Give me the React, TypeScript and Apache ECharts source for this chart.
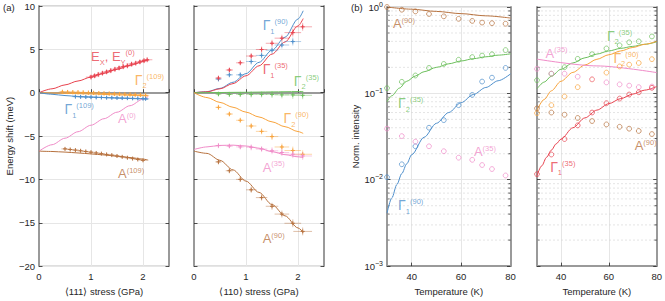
import React, { useEffect, useRef } from 'react';
import * as echarts from 'echarts';

const FONT = '"Liberation Sans", Arial, Helvetica, sans-serif';
const RED = '#E8434F';
const ORANGE = '#F8A33C';
const BLUE = '#4F8FCB';
const GREEN = '#6CBF5C';
const PINK = '#F08CC8';
const BROWN = '#B7723F';
const TXT = '#262626';

// ---------- (a) left: <111> stress ----------
const fitX = [0, 0.25, 0.5, 0.75, 1, 1.25, 1.5, 1.75, 2, 2.1];
const fitE0 = [0, 0.45, 0.9, 1.35, 1.8, 2.25, 2.7, 3.15, 3.6, 3.8];
const fitG2_109 = [0, -0.03, -0.07, -0.11, -0.15, -0.2, -0.25, -0.3, -0.35, -0.37];
const fitG1_109 = [0, -0.18, -0.33, -0.43, -0.5, -0.56, -0.62, -0.67, -0.72, -0.75];
const fitA0 = [-6.75, -6.0, -5.25, -4.5, -3.75, -3.0, -2.25, -1.5, -0.75, -0.45];
const fitA109 = [-6.74, -6.78, -6.85, -6.95, -7.06, -7.18, -7.32, -7.48, -7.66, -7.78];

const eX = [1.0, 1.07, 1.14, 1.22, 1.3, 1.38, 1.46, 1.54, 1.62, 1.7, 1.78, 1.86, 1.94, 2.02, 2.08];
const eY = [1.8, 1.95, 2.1, 2.25, 2.4, 2.55, 2.7, 2.85, 3.0, 3.1, 3.3, 3.4, 3.55, 3.7, 3.8];
const eXe = [0.1, 0.1, 0.1, 0.1, 0.1, 0.1, 0.1, 0.1, 0.1, 0.1, 0.1, 0.1, 0.1, 0.1, 0.1];
const eYe = [0.3, 0.3, 0.3, 0.3, 0.3, 0.3, 0.3, 0.3, 0.3, 0.3, 0.3, 0.3, 0.3, 0.3, 0.3];

const g2aX = [0.45, 0.55, 0.65, 0.75, 0.85, 0.95, 1.05, 1.15, 1.25, 1.35, 1.45, 1.55, 1.65, 1.75, 1.85, 1.95, 2.05];
const g2aY = [0.1, 0.08, 0.06, 0.05, 0.03, 0.0, -0.02, -0.05, -0.08, -0.1, -0.13, -0.15, -0.18, -0.2, -0.23, -0.26, -0.3];
const g2aXe = [0.07, 0.07, 0.07, 0.07, 0.07, 0.07, 0.07, 0.07, 0.07, 0.07, 0.07, 0.07, 0.07, 0.07, 0.07, 0.07, 0.07];
const g2aYe = [0.25, 0.25, 0.25, 0.25, 0.25, 0.25, 0.25, 0.25, 0.25, 0.25, 0.25, 0.25, 0.25, 0.25, 0.25, 0.25, 0.25];

const g1aX = [0.7, 0.8, 0.9, 1.0, 1.1, 1.2, 1.3, 1.4, 1.5, 1.6, 1.7, 1.8, 1.9, 2.0, 2.05];
const g1aY = [-0.45, -0.48, -0.5, -0.52, -0.54, -0.55, -0.57, -0.58, -0.6, -0.62, -0.63, -0.65, -0.66, -0.68, -0.7];
const g1aXe = [0.07, 0.07, 0.07, 0.07, 0.07, 0.07, 0.07, 0.07, 0.07, 0.07, 0.07, 0.07, 0.07, 0.07, 0.07];
const g1aYe = [0.2, 0.2, 0.2, 0.2, 0.2, 0.2, 0.2, 0.2, 0.2, 0.2, 0.2, 0.2, 0.2, 0.2, 0.2];

const aaX = [0.5, 0.6, 0.7, 0.8, 0.9, 1.0, 1.1, 1.2, 1.3, 1.4, 1.5, 1.6, 1.7, 1.8, 1.9, 2.0];
const aaY = [-6.48, -6.55, -6.62, -6.7, -6.78, -6.86, -6.95, -7.03, -7.12, -7.2, -7.3, -7.4, -7.5, -7.6, -7.7, -7.8];
const aaXe = [0.07, 0.07, 0.07, 0.07, 0.07, 0.07, 0.07, 0.07, 0.07, 0.07, 0.07, 0.07, 0.07, 0.07, 0.07, 0.07];
const aaYe = [0.15, 0.15, 0.15, 0.15, 0.15, 0.15, 0.15, 0.15, 0.15, 0.15, 0.15, 0.15, 0.15, 0.15, 0.15, 0.15];

// ---------- (a) right: <110> stress ----------
const fitG1_90 = [0, 0.12, 0.5, 1.2, 2.2, 3.5, 4.9, 6.4, 8.5, 9.45];
const fitG1_35 = [0, 0.1, 0.45, 1.05, 1.95, 3.1, 4.45, 5.85, 7.7, 8.55];
const fitG2_35 = [0, 0.01, 0.02, 0.04, 0.05, 0.07, 0.09, 0.11, 0.13, 0.14];
const fitG2_90 = [0, -0.56, -1.12, -1.68, -2.24, -2.8, -3.36, -3.92, -4.48, -4.7];
const fitA35 = [-6.55, -6.25, -6.08, -6.05, -6.15, -6.4, -6.8, -7.15, -7.4, -7.5];
const fitA90 = [-6.74, -7.0, -7.8, -8.9, -10.2, -11.5, -12.9, -14.2, -15.6, -16.1];

const bX = [0.47, 0.68, 0.89, 1.1, 1.3, 1.5, 1.69, 1.9, 2.09];
const bXe = [0.06, 0.07, 0.08, 0.1, 0.11, 0.12, 0.14, 0.16, 0.18];
const bYe = [0.3, 0.3, 0.3, 0.35, 0.35, 0.4, 0.4, 0.45, 0.45];
const ptG1_35 = [1.69, 2.62, 3.45, 4.23, 4.98, 5.7, 6.29, 6.93, 7.6];
const ptG1_90 = [1.57, 2.06, 2.06, 3.6, 4.3, 4.9, 5.5, 5.9];
const ptG2_35 = [-0.15, -0.2, -0.2, -0.2, -0.2, -0.2, -0.25, -0.25, -0.3];
const ptG2_90 = [-1.69, -2.46, -3.18, -3.84, -4.46, -5.06, -6.26, -6.67, -7.1];
const ptA35 = [-6.1, -6.15, -6.25, -6.3, -6.5, -6.7, -6.9, -7.1, -7.3];
const ptA90 = [-7.98, -9.0, -10.0, -11.2, -12.1, -13.1, -14.0, -15.06, -16.0];

// ---------- (b) temperature ----------
const T = [30, 36, 41.5, 47, 53, 59, 64.5, 68.5, 72.5, 78];
const blA90 = [1.0, 0.93, 0.89, 0.83, 0.78, 0.73, 0.69, 0.66, 0.65, 0.64];
const blG2_35 = [0.115, 0.136, 0.161, 0.197, 0.219, 0.245, 0.263, 0.274, 0.284, 0.317];
const blG1_90 = [0.0107, 0.0151, 0.0244, 0.04, 0.049, 0.073, 0.096, 0.137, 0.152, 0.197];
const blA35 = [0.039, 0.032, 0.0276, 0.0244, 0.0214, 0.018, 0.017, 0.0148, 0.0133, 0.0112];

const brG2_35 = [0.142, 0.169, 0.201, 0.251, 0.284, 0.331, 0.36, 0.39, 0.4, 0.456];
const brG2_90 = [0.059, 0.073, 0.092, 0.118, 0.145, 0.174, 0.205, 0.215, 0.225, 0.249];
const brA35 = [0.192, 0.169, 0.169, 0.156, 0.146, 0.134, 0.127, 0.123, 0.118, 0.12];
const brA90 = [0.067, 0.06, 0.0566, 0.0519, 0.0478, 0.0437, 0.041, 0.039, 0.0367, 0.0338];
const brG1_35 = [0.0116, 0.0196, 0.0296, 0.0426, 0.06, 0.077, 0.087, 0.097, 0.103, 0.116];

const fbA90T = [30, 40, 50, 60, 70, 80];
const fbA90 = [1.0, 0.943, 0.889, 0.838, 0.79, 0.745];
const fbG2T = [30, 32, 35, 38, 41.5, 45, 50, 55, 60, 65, 70, 75, 80];
const fbG2_35 = [0.08, 0.094, 0.115, 0.138, 0.159, 0.178, 0.2, 0.22, 0.237, 0.252, 0.265, 0.277, 0.287];
const fbG1T = [30, 32, 34, 36, 38, 40, 45, 50, 55, 60, 65, 70, 75, 80];
const fbG1_90 = [0.0041, 0.0062, 0.0088, 0.0118, 0.0153, 0.0195, 0.031, 0.045, 0.06, 0.078, 0.097, 0.117, 0.14, 0.168];

const frT = [30, 33, 36, 40, 45, 50, 55, 60, 65, 70, 75, 80];
const frG2_35 = [0.113, 0.135, 0.158, 0.19, 0.225, 0.258, 0.285, 0.31, 0.332, 0.35, 0.37, 0.395];
const frG2_90 = [0.064, 0.085, 0.107, 0.138, 0.175, 0.213, 0.248, 0.28, 0.31, 0.34, 0.37, 0.4];
const frA35T = [30, 55, 80];
const frA35 = [0.249, 0.208, 0.174];
const frG1T = [30, 32, 34, 36, 38, 40, 45, 50, 55, 60, 65, 70, 75, 80];
const frG1_35 = [0.0112, 0.0145, 0.0182, 0.022, 0.026, 0.0295, 0.04, 0.052, 0.064, 0.076, 0.087, 0.098, 0.109, 0.12];

const minorLog = [
  0.002, 0.003, 0.004, 0.005, 0.006, 0.007, 0.008, 0.009,
  0.02, 0.03, 0.04, 0.05, 0.06, 0.07, 0.08, 0.09,
  0.2, 0.3, 0.4, 0.5, 0.6, 0.7, 0.8, 0.9,
];

// annotation labels (data coordinates: left edge, vertical centre of main letter)
const labelsA1 = [
  { x: 1.0, y: 4.2, t: '{m|E}{sub|X}{m|, E}{sub|Y}{sup|(0)}', c: RED },
  { x: 1.84, y: 1.5, t: '{g|Γ}{sub|2}{sup|(109)}', c: ORANGE },
  { x: 0.49, y: -1.9, t: '{g|Γ}{sub|1}{sup|(109)}', c: BLUE },
  { x: 1.52, y: -3.03, t: '{m|A}{sup|(0)}', c: PINK },
  { x: 1.52, y: -9.33, t: '{m|A}{sup|(109)}', c: BROWN },
];
const labelsA2 = [
  { x: 1.32, y: 7.8, t: '{g|Γ}{sub|1}{sup|(90)}', c: BLUE },
  { x: 1.32, y: 2.7, t: '{g|Γ}{sub|1}{sup|(35)}', c: RED },
  { x: 1.92, y: 1.35, t: '{g|Γ}{sub|2}{sup|(35)}', c: GREEN },
  { x: 1.72, y: -2.92, t: '{g|Γ}{sub|2}{sup|(90)}', c: ORANGE },
  { x: 1.32, y: -8.6, t: '{m|A}{sup|(35)}', c: PINK },
  { x: 1.32, y: -16.85, t: '{m|A}{sup|(90)}', c: BROWN },
];
const labelsB1 = [
  { x: 32.4, y: 0.644, t: '{m|A}{sup|(90)}', c: BROWN },
  { x: 34.5, y: 0.0764, t: '{g|Γ}{sub|2}{sup|(35)}', c: GREEN },
  { x: 65.2, y: 0.021, t: '{m|A}{sup|(35)}', c: PINK },
  { x: 34.5, y: 0.00505, t: '{g|Γ}{sub|1}{sup|(90)}', c: BLUE },
];
const labelsB2 = [
  { x: 59.2, y: 0.467, t: '{g|Γ}{sub|2}{sup|(35)}', c: GREEN },
  { x: 33.6, y: 0.291, t: '{m|A}{sup|(35)}', c: PINK },
  { x: 61.9, y: 0.26, t: '{g|Γ}{sub|2}{sup|(90)}', c: ORANGE },
  { x: 70.8, y: 0.0249, t: '{m|A}{sup|(90)}', c: BROWN },
  { x: 35.5, y: 0.0142, t: '{g|Γ}{sub|1}{sup|(35)}', c: RED },
];

const zip = (xs: number[], ys: number[]) => ys.map((y, i) => [xs[i], y]);
const zip4 = (xs: number[], ys: number[], xe: number[], ye: number[]) =>
  ys.map((y, i) => [xs[i], y, xe[i], ye[i]]);

const RICH = {
  m: { fontSize: 13, lineHeight: 16, fontFamily: FONT },
  g: { fontSize: 14, lineHeight: 16, fontFamily: FONT },
  sub: { fontSize: 7.5, lineHeight: 10, padding: [12, 0, 0, 0], fontFamily: FONT },
  sup: { fontSize: 7.5, lineHeight: 10, padding: [0, 0, 7, 0], fontFamily: FONT },
};

function fitSeries(gi: number, xs: number[], ys: number[], color: string) {
  return {
    type: 'line',
    xAxisIndex: gi,
    yAxisIndex: gi,
    data: zip(xs, ys),
    showSymbol: false,
    symbol: 'none',
    smooth: 0.3,
    smoothMonotone: 'x',
    lineStyle: { color, width: 1 },
    silent: true,
    z: 3,
  };
}

function errSeries(gi: number, data: number[][], color: string) {
  return {
    type: 'custom',
    xAxisIndex: gi,
    yAxisIndex: gi,
    data,
    encode: { x: 0, y: 1 },
    silent: true,
    z: 4,
    renderItem: (params: any, api: any) => {
      const x = api.value(0);
      const y = api.value(1);
      const xe = api.value(2);
      const ye = api.value(3);
      const c = api.coord([x, y]);
      const l = api.coord([x - xe, y]);
      const r = api.coord([x + xe, y]);
      const t = api.coord([x, y + ye]);
      const b = api.coord([x, y - ye]);
      return {
        type: 'group',
        children: [
          { type: 'line', shape: { x1: l[0], y1: c[1], x2: r[0], y2: c[1] }, style: { stroke: color, lineWidth: 1, opacity: 0.45 } },
          { type: 'line', shape: { x1: c[0], y1: t[1], x2: c[0], y2: b[1] }, style: { stroke: color, lineWidth: 1, opacity: 0.45 } },
          { type: 'line', shape: { x1: c[0] - 2, y1: c[1], x2: c[0] + 2, y2: c[1] }, style: { stroke: color, lineWidth: 1 } },
          { type: 'line', shape: { x1: c[0], y1: c[1] - 2, x2: c[0], y2: c[1] + 2 }, style: { stroke: color, lineWidth: 1 } },
        ],
      };
    },
  };
}

function circSeries(gi: number, ys: number[], color: string) {
  return {
    type: 'scatter',
    xAxisIndex: gi,
    yAxisIndex: gi,
    data: zip(T, ys),
    symbol: 'circle',
    symbolSize: 4.8,
    itemStyle: { color: 'transparent', borderColor: color, borderWidth: 0.9 },
    silent: true,
    z: 4,
  };
}

function labelSeries(gi: number, labels: { x: number; y: number; t: string; c: string }[]) {
  return {
    type: 'scatter',
    xAxisIndex: gi,
    yAxisIndex: gi,
    symbolSize: 0,
    silent: true,
    z: 6,
    data: labels.map((d) => ({
      value: [d.x, d.y],
      label: {
        show: true,
        position: 'right',
        distance: 0,
        formatter: d.t,
        color: d.c,
        rich: RICH,
      },
    })),
  };
}

function minorSeries(gi: number) {
  return {
    type: 'custom',
    xAxisIndex: gi,
    yAxisIndex: gi,
    data: minorLog.map((v) => [30, v]),
    encode: { x: 0, y: 1 },
    silent: true,
    z: 2,
    renderItem: (params: any, api: any) => {
      const p = api.coord([api.value(0), api.value(1)]);
      const s = api.size([50, 1]);
      return {
        type: 'group',
        children: [
          { type: 'line', shape: { x1: p[0], y1: p[1], x2: p[0] + 2.5, y2: p[1] }, style: { stroke: TXT, lineWidth: 0.8 } },
          { type: 'line', shape: { x1: p[0] + s[0] - 2.5, y1: p[1], x2: p[0] + s[0], y2: p[1] }, style: { stroke: TXT, lineWidth: 0.8 } },
          { type: 'line', shape: { x1: p[0], y1: p[1], x2: p[0] + s[0], y2: p[1] }, style: { stroke: '#dadada', lineWidth: 0.7, lineDash: [2, 2] } },
        ],
      };
    },
  };
}

const minus = (v: number) => String(v).replace('-', '\u2212');

const grids = [
  { left: 39, top: 6, width: 130, height: 268 },
  { left: 194, top: 6, width: 130, height: 268 },
  { left: 387, top: 7, width: 123.5, height: 267 },
  { left: 537, top: 7, width: 122, height: 267 },
].map((g) => ({ ...g, show: true, borderColor: '#b0b0b0', borderWidth: 1, containLabel: false }));

const tickStyle = { show: true, inside: true, length: 3.5, lineStyle: { color: TXT, width: 0.8 } };
const axisLineStyle = { show: true, lineStyle: { color: '#9a9a9a', width: 2 } };
const gridLine = { show: true, lineStyle: { color: '#e6e6e6', width: 1 } };
const nameStyle = { fontSize: 9.5, color: TXT, fontFamily: FONT };
const labelStyle = { fontSize: 9.5, color: TXT, fontFamily: FONT };

function stressAxis(gi: number, name: string) {
  return {
    type: 'value',
    gridIndex: gi,
    min: 0,
    max: 2.5,
    interval: 1,
    name,
    nameLocation: 'middle',
    nameGap: 16,
    nameTextStyle: nameStyle,
    axisLine: axisLineStyle,
    axisTick: tickStyle,
    splitLine: gridLine,
    axisLabel: { ...labelStyle, margin: 5, formatter: (v: number) => (Number.isInteger(v) ? String(v) : '') },
  };
}

function tempAxis(gi: number) {
  return {
    type: 'value',
    gridIndex: gi,
    min: 30,
    max: 80,
    interval: 10,
    name: 'Temperature (K)',
    nameLocation: 'middle',
    nameGap: 16,
    nameTextStyle: nameStyle,
    axisLine: axisLineStyle,
    axisTick: { ...tickStyle, customValues: [40, 60] },
    splitLine: gridLine,
    axisLabel: {
      ...labelStyle,
      margin: 5,
      customValues: [40, 60, 80],
      formatter: (v: number) => (v % 20 === 0 && v > 30 ? String(v) : ''),
    },
  };
}

function energyAxis(gi: number, labels: boolean) {
  return {
    type: 'value',
    gridIndex: gi,
    min: -20,
    max: 10,
    interval: 5,
    name: labels ? 'Energy shift (meV)' : '',
    nameLocation: 'middle',
    nameGap: 22,
    nameTextStyle: nameStyle,
    axisLine: axisLineStyle,
    axisTick: tickStyle,
    splitLine: gridLine,
    axisLabel: { ...labelStyle, show: labels, margin: 4, formatter: minus },
  };
}

function rightTicks(gi: number) {
  return {
    type: 'value',
    gridIndex: gi,
    position: 'right',
    min: -20,
    max: 10,
    interval: 5,
    axisLine: axisLineStyle,
    axisTick: tickStyle,
    splitLine: { show: false },
    axisLabel: { show: false },
  };
}

function rightLog(gi: number) {
  return {
    type: 'log',
    logBase: 10,
    gridIndex: gi,
    position: 'right',
    min: 0.001,
    max: 1,
    axisLine: axisLineStyle,
    axisTick: tickStyle,
    splitLine: { show: false },
    axisLabel: { show: false },
  };
}

function logAxis(gi: number, labels: boolean) {
  return {
    type: 'log',
    logBase: 10,
    gridIndex: gi,
    min: 0.001,
    max: 1,
    name: labels ? 'Norm. intensity' : '',
    nameLocation: 'middle',
    nameGap: 23,
    nameTextStyle: nameStyle,
    axisLine: axisLineStyle,
    axisTick: tickStyle,
    splitLine: gridLine,
    axisLabel: {
      show: labels,
      margin: 4,
      formatter: (v: number) => {
        const e = Math.round(Math.log10(v));
        return '{b|10}{s|' + (e === 0 ? '0' : '\u2212' + String(-e)) + '}';
      },
      rich: {
        b: { fontSize: 9.5, color: TXT, fontFamily: FONT, lineHeight: 12 },
        s: { fontSize: 7, color: TXT, fontFamily: FONT, lineHeight: 8, padding: [0, 0, 6, 0] },
      },
    },
  };
}

export default function App() {
  const ref = useRef<HTMLDivElement>(null);
  useEffect(() => {
    document.body.style.margin = '0';
    if (!ref.current) return;
    const chart = echarts.init(ref.current, null, { renderer: 'svg' });
    const option: any = {
      animation: false,
      backgroundColor: '#ffffff',
      textStyle: { fontFamily: FONT },
      grid: grids,
      xAxis: [
        stressAxis(0, '\u27E8111\u27E9 stress (GPa)'),
        stressAxis(1, '\u27E8110\u27E9 stress (GPa)'),
        tempAxis(2),
        tempAxis(3),
      ],
      yAxis: [
        energyAxis(0, true),
        energyAxis(1, false),
        logAxis(2, true),
        logAxis(3, false),
        rightTicks(0),
        rightTicks(1),
        rightLog(2),
        rightLog(3),
      ],
      graphic: [
        { type: 'text', left: 3, top: 2, style: { text: '(a)', fontSize: 9.5, fill: TXT, fontFamily: FONT } },
        { type: 'text', left: 351, top: 2, style: { text: '(b)', fontSize: 9.5, fill: TXT, fontFamily: FONT } },
      ],
      series: [
        // (a) left
        fitSeries(0, fitX, fitE0, RED),
        fitSeries(0, fitX, fitG2_109, ORANGE),
        fitSeries(0, fitX, fitG1_109, BLUE),
        fitSeries(0, fitX, fitA0, PINK),
        fitSeries(0, fitX, fitA109, BROWN),
        errSeries(0, zip4(eX, eY, eXe, eYe), RED),
        errSeries(0, zip4(g2aX, g2aY, g2aXe, g2aYe), ORANGE),
        errSeries(0, zip4(g1aX, g1aY, g1aXe, g1aYe), BLUE),
        errSeries(0, zip4(aaX, aaY, aaXe, aaYe), BROWN),
        labelSeries(0, labelsA1),
        // (a) right
        fitSeries(1, fitX, fitG1_90, BLUE),
        fitSeries(1, fitX, fitG1_35, RED),
        fitSeries(1, fitX, fitG2_35, GREEN),
        fitSeries(1, fitX, fitG2_90, ORANGE),
        fitSeries(1, fitX, fitA35, PINK),
        fitSeries(1, fitX, fitA90, BROWN),
        errSeries(1, zip4(bX, ptG1_90, bXe, bYe), BLUE),
        errSeries(1, zip4(bX, ptG1_35, bXe, bYe), RED),
        errSeries(1, zip4(bX, ptG2_35, bXe, bYe), GREEN),
        errSeries(1, zip4(bX, ptG2_90, bXe, bYe), ORANGE),
        errSeries(1, zip4(bX, ptA35, bXe, bYe), PINK),
        errSeries(1, zip4(bX, ptA90, bXe, bYe), BROWN),
        labelSeries(1, labelsA2),
        // (b) left
        minorSeries(2),
        fitSeries(2, fbA90T, fbA90, BROWN),
        fitSeries(2, fbG2T, fbG2_35, GREEN),
        fitSeries(2, fbG1T, fbG1_90, BLUE),
        circSeries(2, blA90, BROWN),
        circSeries(2, blG2_35, GREEN),
        circSeries(2, blG1_90, BLUE),
        circSeries(2, blA35, PINK),
        labelSeries(2, labelsB1),
        // (b) right
        minorSeries(3),
        fitSeries(3, frT, frG2_35, GREEN),
        fitSeries(3, frT, frG2_90, ORANGE),
        fitSeries(3, frA35T, frA35, PINK),
        fitSeries(3, frG1T, frG1_35, RED),
        circSeries(3, brG2_35, GREEN),
        circSeries(3, brG2_90, ORANGE),
        circSeries(3, brA35, PINK),
        circSeries(3, brA90, BROWN),
        circSeries(3, brG1_35, RED),
        labelSeries(3, labelsB2),
      ],
    };
    chart.setOption(option);
    return () => chart.dispose();
  }, []);
  return <div ref={ref} style={{ width: 665, height: 301 }} />;
}
